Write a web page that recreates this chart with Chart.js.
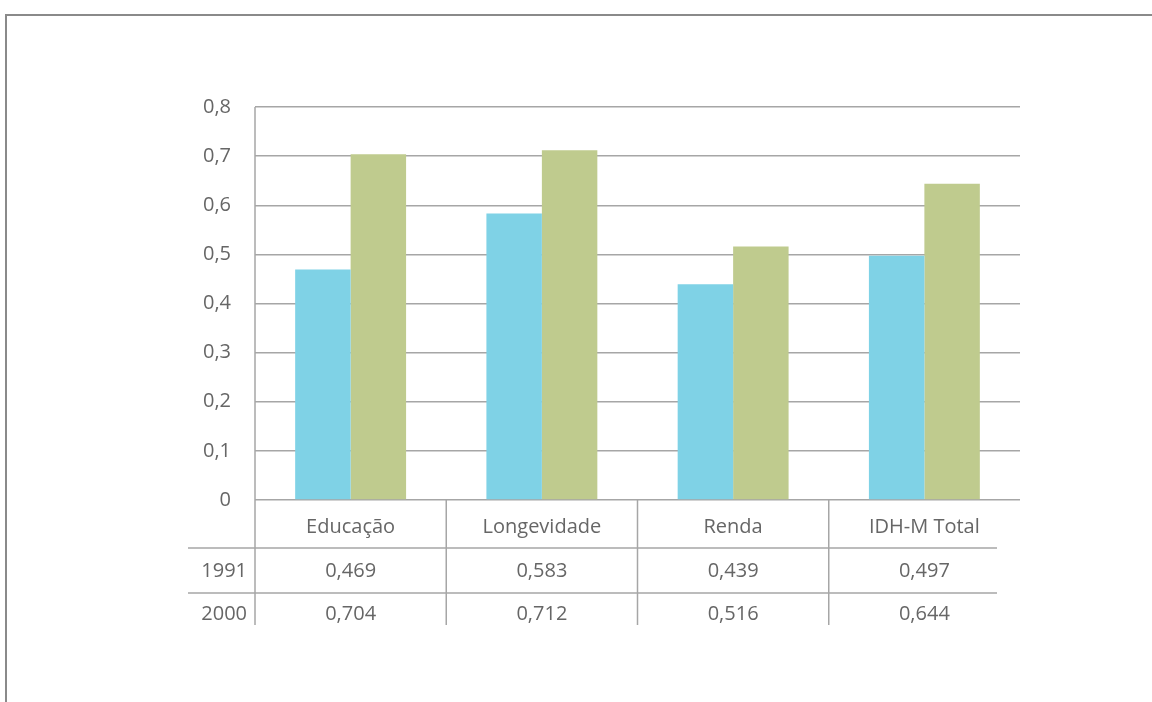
<!DOCTYPE html>
<html lang="pt">
<head>
<meta charset="utf-8">
<title>IDH-M 1991 e 2000</title>
<script src="https://cdn.jsdelivr.net/npm/chart.js@4/dist/chart.umd.min.js"></script>
<style>
  html, body { margin: 0; padding: 0; background: #fff; }
  #wrap { position: relative; width: 1152px; height: 702px; }
  #frame {
    position: absolute; left: 5px; top: 14px; right: 0; bottom: 0;
    border-top: 2px solid #8a8a8a; border-left: 2px solid #8a8a8a;
  }
  canvas { position: absolute; left: 0; top: 0; }
</style>
</head>
<body>
<div id="wrap">
  <div id="frame"></div>
  <canvas id="idh-chart" width="1152" height="702"></canvas>
</div>
<script>
  const categories = ['Educação', 'Longevidade', 'Renda', 'IDH-M Total'];
  const years = ['1991', '2000'];
  const values1991 = [0.469, 0.583, 0.439, 0.497];
  const values2000 = [0.704, 0.712, 0.516, 0.644];
  const yTicks = [0, 0.1, 0.2, 0.3, 0.4, 0.5, 0.6, 0.7, 0.8];

  const FONT = '"Open Sans", sans-serif';
  const TEXT = '#666666';
  const LINE = '#a6a6a6';

  // data table under the plot, laid out from the category scale
  const dataTable = {
    id: 'dataTable',
    afterDraw(chart) {
      const { ctx, chartArea, scales } = chart;
      const x = scales.x;
      const bottom = chartArea.bottom;
      const rowH = [48, 45, 32];
      const rowLines = [bottom + rowH[0], bottom + rowH[0] + rowH[1]];
      const tableBottom = bottom + rowH[0] + rowH[1] + rowH[2];
      const gridRight = chartArea.right - 23;
      const labelRight = chartArea.left - 8;
      const rows = [values1991, values2000];

      ctx.save();
      ctx.strokeStyle = LINE;
      ctx.lineWidth = 1.5;

      // horizontal row separators
      rowLines.forEach((y) => {
        ctx.beginPath();
        ctx.moveTo(chartArea.left - 67, y);
        ctx.lineTo(gridRight, y);
        ctx.stroke();
      });

      // axis line and category separators
      const seps = [chartArea.left];
      const step = (chartArea.right - chartArea.left) / categories.length;
      for (let i = 1; i < categories.length; i++) seps.push(chartArea.left + step * i);
      seps.forEach((sx, i) => {
        ctx.beginPath();
        ctx.moveTo(sx, i === 0 ? chartArea.top : bottom);
        ctx.lineTo(sx, tableBottom);
        ctx.stroke();
      });

      ctx.fillStyle = TEXT;
      ctx.font = '20px ' + FONT;
      ctx.textBaseline = 'middle';
      ctx.textAlign = 'center';

      const rowY = [rowLines[0] + rowH[1] / 2 + 1, rowLines[1] + 21];
      categories.forEach((c, i) => {
        const cx = x.getPixelForValue(i);
        ctx.fillText(c, cx, bottom + rowH[0] / 2 + 3);
        rows.forEach((r, j) => {
          ctx.fillText(r[i].toFixed(3).replace('.', ','), cx, rowY[j]);
        });
      });

      ctx.textAlign = 'right';
      years.forEach((yr, j) => ctx.fillText(yr, labelRight, rowY[j]));
      ctx.restore();
    },
  };

  new Chart(document.getElementById('idh-chart'), {
    type: 'bar',
    data: {
      labels: categories,
      datasets: [
        {
          label: years[0],
          data: values1991,
          backgroundColor: '#7fd2e6',
          categoryPercentage: 0.58,
          barPercentage: 1,
        },
        {
          label: years[1],
          data: values2000,
          backgroundColor: '#bfcb8e',
          categoryPercentage: 0.58,
          barPercentage: 1,
        },
      ],
    },
    options: {
      responsive: false,
      animation: false,
      layout: { padding: { top: 107, left: 0, right: 132, bottom: 202 } },
      plugins: {
        legend: { display: false },
        tooltip: { enabled: false },
      },
      scales: {
        x: {
          grid: { display: false },
          border: { display: false },
          ticks: { display: false },
          afterFit: (scale) => { scale.height = 0; },
        },
        y: {
          min: 0,
          max: 0.8,
          afterBuildTicks: (scale) => { scale.ticks = yTicks.map((v) => ({ value: v })); },
          afterFit: (scale) => { scale.width = 255; },
          grid: { color: LINE, lineWidth: 1.5, drawTicks: false },
          border: { display: false },
          ticks: {
            padding: 24,
            color: TEXT,
            font: { family: FONT, size: 20 },
            callback: (v) => (v === 0 ? '0' : v.toFixed(1).replace('.', ',')),
          },
        },
      },
    },
    plugins: [dataTable],
  });
</script>
</body>
</html>
